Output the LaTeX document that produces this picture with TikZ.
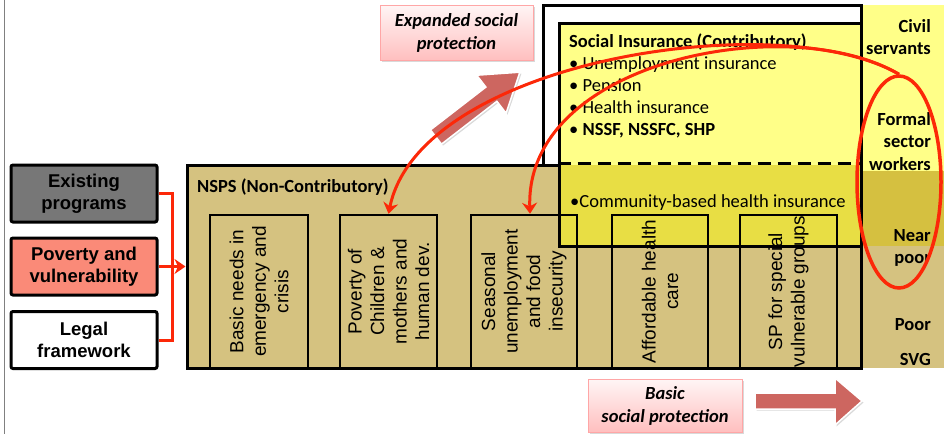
\documentclass[tikz,border=0pt]{standalone}
\usepackage{fontspec}
\setmainfont{Carlito}
\newfontfamily\arial{Liberation Sans}
\usetikzlibrary{shapes.geometric,arrows.meta,shadows}
\definecolor{nspstan}{RGB}{213,194,128}
\definecolor{siyel}{RGB}{255,255,136}
\definecolor{ovyel}{RGB}{232,222,68}
\definecolor{olive}{RGB}{213,192,64}
\definecolor{salmon}{RGB}{250,138,120}
\definecolor{dgray}{RGB}{119,119,119}
\definecolor{rline}{RGB}{252,40,8}
\definecolor{arred}{RGB}{205,102,96}
\tikzset{lb/.style = {rectangle, line width=3pt, rounded corners=2pt, minimum width=146pt, minimum height=57pt,
                      inner sep=0pt, draw, align=center, font=\arial\bfseries\fontsize{18.5}{22}\selectfont},
         cb/.style = {rectangle, line width=2.5pt, minimum height=153pt, inner sep=0pt, draw},
         ct/.style = {rotate=90, align=center, inner sep=0pt, font=\arial\fontsize{19}{22.5}\selectfont},
         rl/.style = {anchor=north east, align=right, inner sep=0pt, font=\bfseries\fontsize{18.5}{22.5}\selectfont},
         pb/.style = {rectangle, draw=red!35, top color=red!4, bottom color=red!25, inner sep=0pt, align=center,
                      drop shadow={shadow xshift=1.5pt, shadow yshift=-1.5pt, opacity=0.3},
                      font=\bfseries\itshape\fontsize{18.5}{23}\selectfont},
         fat/.style = {fill=arred, draw=white, line width=1.5pt,
                       drop shadow={shadow xshift=1.5pt, shadow yshift=-1.5pt, opacity=0.3}},
         rd/.style = {rline, line width=3pt}}

\begin{document}
\begin{tikzpicture}[x=1pt, y=-1pt, >={Stealth[length=11pt,width=15pt]}]
    \useasboundingbox (0,0) rectangle (944,434);
    \draw[gray, line width=0.8pt] (4,0) -- (4,434);
    \fill[siyel] (862,5) rectangle (944,171);
    \fill[olive] (862,171) rectangle (944,246);
    \fill[nspstan] (862,246) rectangle (944,368);

    \node[pb, minimum width=153pt, minimum height=55pt] (exp) at (456.5,32.5) {Expanded social\\protection};
    \node[pb, minimum width=154pt, minimum height=53pt] (bsp) at (665,405.5) {Basic\\social protection};
    \filldraw[fat, shift={(436,137)}, rotate=37.7] (0,-9) -- (70,-9) -- (70,-24) -- (106,0) -- (70,24) -- (70,9) -- (0,9) -- cycle;
    \filldraw[fat] (755,393) -- (835,393) -- (835,378) -- (862,401) -- (835,425) -- (835,409) -- (755,409) -- cycle;

    \node[draw, fill=white, line width=3pt, minimum width=318pt, minimum height=160pt, inner sep=0pt] (frame) at (702,85) {};
    \node[draw, fill=nspstan, line width=3pt, minimum width=674pt, minimum height=203pt, inner sep=0pt] (nsps) at (524,266.5) {};
    \node[draw, fill=siyel, line width=3pt, minimum width=302pt, minimum height=223pt, inner sep=0pt] (si) at (710,134.5) {};
    \fill[ovyel] (560.5,165) rectangle (859.5,244.5);
    \draw[line width=3pt, dash pattern=on 13pt off 7pt] (si.west |- nsps.north) -- (si.east |- nsps.north);

    \node[cb, minimum width=98pt]  (col1) at (259,291.5) {};
    \node[cb, minimum width=97pt]  (col2) at (388.5,291.5) {};
    \node[cb, minimum width=106pt] (col3) at (524,291.5) {};
    \node[cb, minimum width=96pt]  (col4) at (660,291.5) {};
    \node[cb, minimum width=97pt]  (col5) at (788.5,291.5) {};
    \node[ct] (col1t) at (col1) {Basic needs in\\emergency and\\crisis};
    \node[ct] (col2t) at (col2) {Poverty of\\Children \&\\mothers and\\human dev.};
    \node[ct] (col3t) at (col3) {Seasonal\\unemployment\\and food\\insecurity};
    \node[ct] (col4t) at (col4) {Affordable health\\care};
    \node[ct] (col5t) at (col5) {SP for special\\vulnerable groups};

    \node[anchor=base west, inner sep=0pt, font=\bfseries\fontsize{18.5}{22}\selectfont] (nspst) at (197,192) {NSPS (Non-Contributory)};
    \node[anchor=north west, align=left, inner sep=0pt, font=\fontsize{18.5}{22}\selectfont] (sit) at (569,34)
        {\textbf{Social Insurance (Contributory)}\\\textbullet\ Unemployment insurance\\\textbullet\ Pension\\
         \textbullet\ Health insurance\\\textbullet\ \textbf{NSSF, NSSFC, SHP}};
    \node[anchor=base west, inner sep=0pt, font=\fontsize{18.5}{22}\selectfont] (cbhi) at (570,207) {\textbullet Community-based health insurance};

    \node[rl] (civ) at (931,19) {Civil\\servants};
    \node[rl] (fsw) at (931,112) {Formal\\sector\\workers};
    \node[rl] (near) at (931,229) {Near\\poor};
    \node[rl] (poor) at (931,318) {Poor};
    \node[rl] (svg) at (931,353) {SVG};

    \node[lb, fill=dgray] (exist) at (84,193.5) {Existing\\programs};
    \node[lb, fill=salmon] (pov) at (84,266.5) {Poverty and\\vulnerability};
    \node[lb, fill=white] (legal) at (84,340) {Legal\\framework};
    \coordinate (join) at (172,266.5);
    \draw[rd] (exist.east) -| (join);
    \draw[rd] (legal.east) -| (join);
    \draw[rd, ->] (pov.east) -- (nsps.west);

    \node[draw=rline, line width=3.5pt, ellipse, minimum width=84pt, minimum height=212pt, inner sep=0pt] (ring) at (899,182) {};
    \draw[rd, ->] (ring.north) .. controls (780,5) and (420,60) .. (col2.north);
    \draw[rd, ->] (ring.north) .. controls (790,10) and (525,60) .. ([xshift=6pt]col3.north);
\end{tikzpicture}
\end{document}
